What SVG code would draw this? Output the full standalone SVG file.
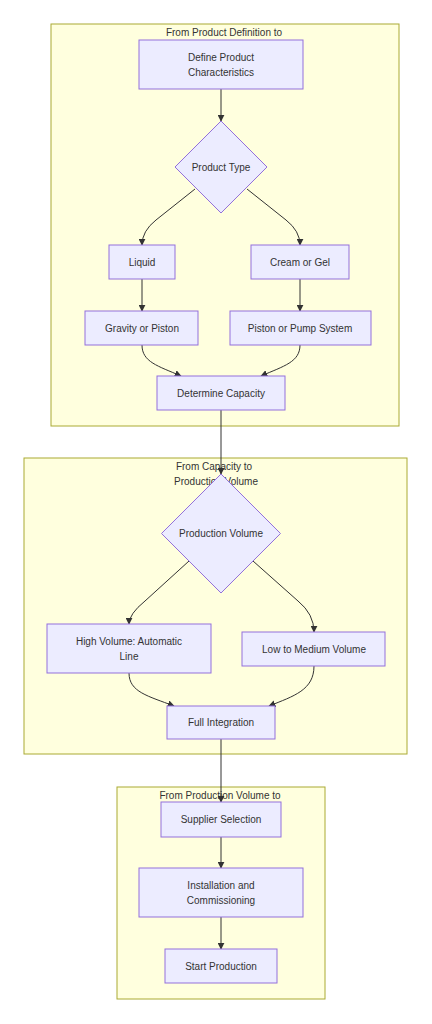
<svg xmlns="http://www.w3.org/2000/svg" width="432" height="1024" viewBox="0 0 432 1024">
<defs>
<style>
.cluster rect{fill:#ffffde;stroke:#aaaa33;stroke-width:1}
.node rect,.node polygon{fill:#ECECFF;stroke:#9370DB;stroke-width:1}
text{font-family:"Liberation Sans",Arial,sans-serif;font-size:10px;fill:#333;text-anchor:middle}
.edges path{fill:none;stroke:#333;stroke-width:1;marker-end:url(#arr)}
</style>
<marker id="arr" viewBox="0 0 10 10" refX="9" refY="5" markerWidth="7" markerHeight="7" orient="auto" markerUnits="userSpaceOnUse">
<path d="M0,0 L10,5 L0,10 z" fill="#333"/>
</marker>
</defs>
<rect width="432" height="1024" fill="#ffffff"/>
<g id="cluster1" class="cluster">
<rect x="51" y="24" width="348" height="402"/>
<text x="224" y="35.5">From Product Definition to</text>
</g>
<g id="cluster2" class="cluster">
<rect x="24" y="458" width="383" height="296"/>
<text x="214" y="469.5">From Capacity to</text>
<text x="216" y="484.5">Production Volume</text>
</g>
<g id="cluster3" class="cluster">
<rect x="117" y="787" width="208" height="212"/>
<text x="220" y="798.5">From Production Volume to</text>
</g>
<g class="edges">
<path d="M221,89 L221,121"/>
<path d="M195,189 L156,220 Q142,231 142,245"/>
<path d="M247,189 L286,220 Q300,231 300,245"/>
<path d="M142,279 L142,311"/>
<path d="M300,279 L300,311"/>
<path d="M142,345 C142,362 158,366 181,376"/>
<path d="M300,345 C300,362 284,366 261,376"/>
<path d="M221,410 L221,474"/>
<path d="M189,561 L145,601 Q129,614 129,624"/>
<path d="M253,561 L298,601 Q314,614 314,632"/>
<path d="M129,673 C129,692 148,696 174,706"/>
<path d="M314,666 C314,690 294,696 269,706"/>
<path d="M221,739 L221,802"/>
<path d="M221,837 L221,868"/>
<path d="M221,917 L221,949"/>
</g>
<g id="n_define" class="node">
<rect x="139" y="40" width="164" height="49"/>
<text x="221" y="60.5">Define Product</text>
<text x="221" y="75.5">Characteristics</text>
</g>
<g id="n_type" class="node">
<polygon points="221,121 267,167 221,213 175,167"/>
<text x="221" y="170.5">Product Type</text>
</g>
<g id="n_liquid" class="node">
<rect x="109" y="245" width="66" height="34"/>
<text x="142" y="265.5">Liquid</text>
</g>
<g id="n_cream" class="node">
<rect x="251" y="245" width="98" height="34"/>
<text x="300" y="265.5">Cream or Gel</text>
</g>
<g id="n_gravity" class="node">
<rect x="85" y="311" width="113" height="34"/>
<text x="142" y="331.5">Gravity or Piston</text>
</g>
<g id="n_piston" class="node">
<rect x="230" y="311" width="141" height="34"/>
<text x="300" y="331.5">Piston or Pump System</text>
</g>
<g id="n_capacity" class="node">
<rect x="157" y="376" width="128" height="34"/>
<text x="221" y="396.5">Determine Capacity</text>
</g>
<g id="n_volume" class="node">
<polygon points="221,474 280.5,533.5 221,593 161.5,533.5"/>
<text x="221" y="537">Production Volume</text>
</g>
<g id="n_high" class="node">
<rect x="47" y="624" width="164" height="49"/>
<text x="129" y="645">High Volume: Automatic</text>
<text x="129" y="660">Line</text>
</g>
<g id="n_low" class="node">
<rect x="242" y="632" width="143" height="34"/>
<text x="314" y="652.5">Low to Medium Volume</text>
</g>
<g id="n_full" class="node">
<rect x="167" y="706" width="108" height="33"/>
<text x="221" y="726">Full Integration</text>
</g>
<g id="n_supplier" class="node">
<rect x="161" y="802" width="120" height="35"/>
<text x="221" y="823">Supplier Selection</text>
</g>
<g id="n_install" class="node">
<rect x="139" y="868" width="164" height="49"/>
<text x="221" y="889">Installation and</text>
<text x="221" y="904">Commissioning</text>
</g>
<g id="n_start" class="node">
<rect x="165" y="949" width="112" height="34"/>
<text x="221" y="969.5">Start Production</text>
</g>
</svg>
